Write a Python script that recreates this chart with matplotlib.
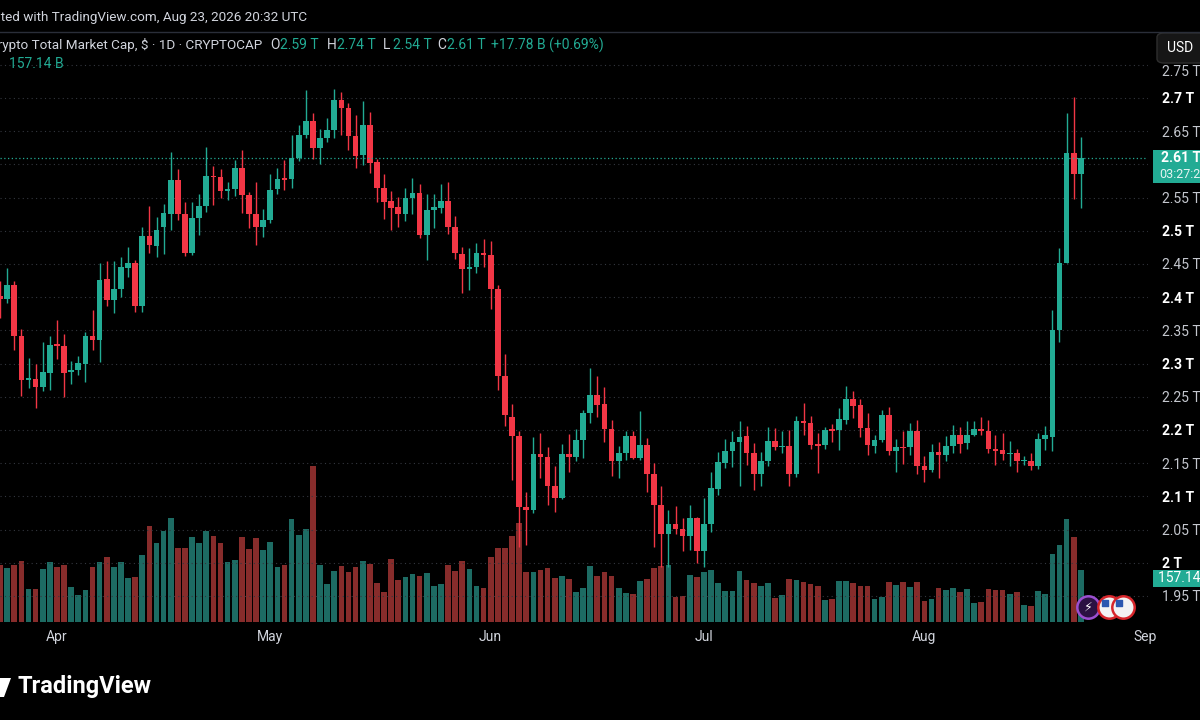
import numpy as np
import pandas as pd
import matplotlib
matplotlib.use("Agg")
import matplotlib.pyplot as plt
import matplotlib.dates as mdates
import matplotlib.transforms as mtransforms
from matplotlib.patches import Rectangle, FancyBboxPatch, Polygon
from matplotlib.lines import Line2D

plt.rcParams['font.family'] = ['Roboto', 'DejaVu Sans']

# daily candles, TOTAL crypto market cap in trillions USD
start_date = '2026-03-24'
opens = [2.402, 2.397, 2.418, 2.341, 2.276, 2.277, 2.265, 2.286, 2.330, 2.327,
         2.287, 2.291, 2.300, 2.341, 2.335, 2.428, 2.396, 2.413, 2.444, 2.451,
         2.386, 2.492, 2.477, 2.506, 2.525, 2.577, 2.525, 2.466, 2.520, 2.537,
         2.583, 2.581, 2.560, 2.563, 2.595, 2.554, 2.525, 2.505, 2.516, 2.563,
         2.579, 2.578, 2.609, 2.645, 2.665, 2.624, 2.639, 2.652, 2.697, 2.685,
         2.643, 2.614, 2.660, 2.603, 2.565, 2.545, 2.536, 2.525, 2.549, 2.557,
         2.494, 2.532, 2.534, 2.545, 2.506, 2.465, 2.443, 2.445, 2.466, 2.464,
         2.412, 2.281, 2.220, 2.191, 2.084, 2.080, 2.164, 2.159, 2.115, 2.097,
         2.164, 2.159, 2.185, 2.226, 2.252, 2.239, 2.202, 2.154, 2.166, 2.191,
         2.158, 2.178, 2.134, 2.087, 2.044, 2.058, 2.051, 2.041, 2.067, 2.017,
         2.058, 2.111, 2.151, 2.169, 2.182, 2.191, 2.166, 2.134, 2.154, 2.184,
         2.174, 2.176, 2.134, 2.214, 2.211, 2.179, 2.177, 2.201, 2.200, 2.215,
         2.246, 2.238, 2.203, 2.176, 2.185, 2.223, 2.168, 2.175, 2.174, 2.198,
         2.146, 2.140, 2.167, 2.162, 2.176, 2.192, 2.180, 2.193, 2.201, 2.199,
         2.171, 2.170, 2.164, 2.166, 2.153, 2.154, 2.146, 2.187, 2.190, 2.350,
         2.452, 2.617, 2.585]
highs = [2.424, 2.444, 2.424, 2.352, 2.308, 2.299, 2.332, 2.341, 2.366, 2.344,
         2.304, 2.311, 2.348, 2.381, 2.451, 2.454, 2.454, 2.461, 2.476, 2.456,
         2.506, 2.538, 2.521, 2.541, 2.618, 2.593, 2.543, 2.544, 2.555, 2.626,
         2.598, 2.593, 2.574, 2.607, 2.622, 2.558, 2.573, 2.533, 2.585, 2.594,
         2.606, 2.644, 2.660, 2.712, 2.677, 2.653, 2.670, 2.713, 2.709, 2.692,
         2.675, 2.695, 2.679, 2.608, 2.586, 2.560, 2.551, 2.565, 2.579, 2.571,
         2.555, 2.555, 2.570, 2.573, 2.522, 2.475, 2.474, 2.482, 2.488, 2.484,
         2.418, 2.315, 2.239, 2.198, 2.107, 2.190, 2.196, 2.175, 2.146, 2.179,
         2.194, 2.201, 2.230, 2.293, 2.281, 2.264, 2.215, 2.176, 2.198, 2.199,
         2.229, 2.188, 2.151, 2.115, 2.080, 2.086, 2.068, 2.087, 2.069, 2.097,
         2.137, 2.167, 2.187, 2.198, 2.214, 2.206, 2.181, 2.167, 2.204, 2.203,
         2.198, 2.200, 2.221, 2.240, 2.221, 2.195, 2.205, 2.209, 2.233, 2.266,
         2.258, 2.246, 2.225, 2.193, 2.230, 2.235, 2.186, 2.198, 2.211, 2.215,
         2.161, 2.179, 2.182, 2.191, 2.208, 2.205, 2.213, 2.213, 2.220, 2.215,
         2.193, 2.196, 2.183, 2.172, 2.161, 2.165, 2.196, 2.206, 2.381, 2.474,
         2.677, 2.701, 2.642]
lows = [2.368, 2.391, 2.321, 2.251, 2.263, 2.233, 2.258, 2.260, 2.307, 2.250,
        2.270, 2.283, 2.273, 2.320, 2.302, 2.386, 2.376, 2.400, 2.430, 2.377,
        2.378, 2.466, 2.460, 2.465, 2.501, 2.516, 2.462, 2.464, 2.493, 2.529,
        2.539, 2.550, 2.547, 2.553, 2.527, 2.504, 2.479, 2.490, 2.512, 2.556,
        2.561, 2.565, 2.605, 2.639, 2.608, 2.600, 2.633, 2.639, 2.645, 2.622,
        2.594, 2.599, 2.587, 2.544, 2.518, 2.501, 2.506, 2.514, 2.526, 2.489,
        2.456, 2.504, 2.527, 2.495, 2.457, 2.406, 2.411, 2.436, 2.446, 2.382,
        2.260, 2.206, 2.124, 2.024, 2.027, 2.075, 2.127, 2.087, 2.076, 2.096,
        2.136, 2.153, 2.158, 2.210, 2.219, 2.182, 2.130, 2.128, 2.155, 2.156,
        2.155, 2.107, 2.024, 1.994, 1.994, 2.044, 2.018, 2.019, 2.000, 1.994,
        2.046, 2.102, 2.142, 2.144, 2.115, 2.147, 2.110, 2.115, 2.145, 2.170,
        2.165, 2.116, 2.129, 2.193, 2.172, 2.135, 2.171, 2.182, 2.170, 2.209,
        2.218, 2.190, 2.162, 2.165, 2.182, 2.162, 2.137, 2.149, 2.162, 2.134,
        2.122, 2.137, 2.127, 2.154, 2.166, 2.166, 2.172, 2.191, 2.192, 2.166,
        2.147, 2.155, 2.145, 2.136, 2.147, 2.140, 2.141, 2.170, 2.168, 2.332,
        2.451, 2.548, 2.535]
closes = [2.398, 2.418, 2.341, 2.275, 2.278, 2.265, 2.287, 2.328, 2.327, 2.286,
          2.291, 2.301, 2.341, 2.335, 2.426, 2.396, 2.413, 2.445, 2.451, 2.386,
          2.492, 2.478, 2.501, 2.527, 2.577, 2.525, 2.466, 2.520, 2.537, 2.583,
          2.581, 2.560, 2.563, 2.595, 2.554, 2.525, 2.505, 2.517, 2.562, 2.578,
          2.577, 2.609, 2.645, 2.665, 2.624, 2.639, 2.652, 2.697, 2.685, 2.643,
          2.613, 2.660, 2.602, 2.564, 2.544, 2.535, 2.525, 2.550, 2.557, 2.494,
          2.531, 2.536, 2.545, 2.506, 2.466, 2.443, 2.446, 2.466, 2.464, 2.412,
          2.281, 2.222, 2.191, 2.084, 2.080, 2.164, 2.159, 2.115, 2.097, 2.164,
          2.159, 2.185, 2.226, 2.253, 2.238, 2.202, 2.154, 2.166, 2.191, 2.158,
          2.178, 2.134, 2.087, 2.044, 2.058, 2.051, 2.041, 2.067, 2.017, 2.058,
          2.112, 2.152, 2.169, 2.182, 2.190, 2.166, 2.134, 2.154, 2.184, 2.174,
          2.176, 2.134, 2.214, 2.210, 2.177, 2.176, 2.200, 2.198, 2.216, 2.246,
          2.236, 2.203, 2.177, 2.185, 2.223, 2.168, 2.175, 2.173, 2.198, 2.146,
          2.140, 2.167, 2.162, 2.176, 2.192, 2.179, 2.193, 2.201, 2.198, 2.171,
          2.168, 2.164, 2.166, 2.153, 2.155, 2.146, 2.187, 2.192, 2.350, 2.452,
          2.617, 2.585, 2.610]
# volume, billions USD
volumes = [172, 162, 170, 183, 100, 98, 160, 179, 165, 172,
           106, 80, 96, 166, 180, 194, 164, 180, 131, 135,
           201, 287, 237, 272, 313, 221, 221, 256, 238, 273,
           259, 237, 180, 186, 256, 220, 253, 217, 239, 165,
           170, 310, 262, 279, 468, 172, 115, 152, 169, 151,
           165, 182, 173, 118, 90, 190, 125, 135, 143, 138,
           148, 107, 115, 170, 154, 184, 159, 109, 103, 196,
           221, 221, 258, 296, 151, 150, 155, 162, 132, 139,
           130, 89, 102, 167, 138, 149, 138, 102, 88, 84,
           124, 128, 161, 168, 172, 75, 79, 140, 134, 149,
           157, 117, 94, 94, 153, 125, 117, 107, 117, 73,
           81, 130, 127, 119, 113, 109, 65, 70, 124, 122,
           116, 109, 109, 69, 75, 121, 112, 120, 104, 121,
           62, 70, 101, 97, 102, 89, 100, 57, 61, 100,
           95, 96, 85, 89, 52, 49, 92, 84, 205, 232,
           309, 256, 157.14]

price_ticks = [1.95, 2.0, 2.05, 2.1, 2.15, 2.2, 2.25, 2.3, 2.35, 2.4,
               2.45, 2.5, 2.55, 2.6, 2.65, 2.7, 2.75]
event_dates = ['2026-08-24', '2026-08-27', '2026-08-29']
event_kinds = ['flash', 'us', 'us']

header = 'Created with TradingView.com, Aug 23, 2026 20:32 UTC'
title = 'Crypto Total Market Cap, $ · 1D · CRYPTOCAP'
ohlc_text = [('O', '2.59 T'), ('H', '2.74 T'), ('L', '2.54 T'), ('C', '2.61 T')]
change_text = '+17.78 B (+0.69%)'
countdown = '03:27:28'

W, H = 1200, 720
UP = '#22ab94'
DOWN = '#f23645'
VOL_UP = '#1d6b63'
VOL_DOWN = '#872c2b'
GRID = '#34373f'
TXT = '#d1d4dc'
FS = 10


def fxy(px, py):
    return px / W, 1 - py / H


o = np.array(opens)
h = np.array(highs)
l = np.array(lows)
c = np.array(closes)
v = np.array(volumes)
dates = pd.date_range(start_date, periods=len(c), freq='D')
x = mdates.date2num(dates.to_pydatetime())
up = c >= o

fig = plt.figure(figsize=(W / 100, H / 100), dpi=100, facecolor='black')
ax_vol = fig.add_axes([0, 1 - 622 / H, 1148 / W, 591 / H])
ax = ax_vol.twinx()
for a in (ax_vol, ax):
    a.set_facecolor('none')
    for s in a.spines.values():
        s.set_visible(False)
ax_vol.set_facecolor('black')

# volume
ax_vol.bar(x, v, width=0.8, color=np.where(up, VOL_UP, VOL_DOWN), zorder=2)
ax_vol.set_ylim(0, 1773)
ax_vol.set_yticks([])

# candles
ax.vlines(x, l, h, colors=np.where(up, UP, DOWN), lw=1.0, zorder=3)
body = np.maximum(np.abs(c - o), 0.0016)
ax.bar(x, body, bottom=np.minimum(o, c), width=0.8,
       color=np.where(up, UP, DOWN), zorder=4)
ax.axhline(c[-1], color=UP, lw=0.9, ls=(0, (1, 2)), zorder=5)

ax.set_ylim(1.9108, 2.8009)
ax.set_xlim(x[0] - 0.014, x[0] + 161.45)

ax.set_yticks(price_ticks)
ax.set_yticklabels(['' if p == 2.75 else f'{p:g} T' for p in price_ticks])
ax.tick_params(axis='y', length=0, pad=10, labelsize=FS)
for p, lab in zip(price_ticks, ax.get_yticklabels()):
    major = abs(p * 10 - round(p * 10)) < 1e-6
    lab.set_fontweight('bold' if major else 'normal')
    lab.set_color('white' if major else '#c4c7ce')
ax.annotate('2.75 T', xy=(1, 2.75), xycoords=('axes fraction', 'data'),
            xytext=(10, -5), textcoords='offset points', ha='left',
            va='center', fontsize=FS, color='#c4c7ce', annotation_clip=False)

ax_vol.xaxis.set_major_locator(mdates.MonthLocator())
ax_vol.xaxis.set_major_formatter(mdates.DateFormatter('%b'))
ax_vol.tick_params(axis='x', length=0, pad=6, labelsize=FS, labelcolor=TXT)
ax.grid(True, color=GRID, lw=0.8, ls=(0, (1, 3)), zorder=0)

# event markers at the bottom of the pane
ev_x = mdates.date2num(pd.to_datetime(event_dates).to_pydatetime())
trans = mtransforms.blended_transform_factory(ax.transData, ax.transAxes)
for ex, kind in zip(ev_x, event_kinds):
    if kind == 'flash':
        ax.scatter([ex], [0.026], s=260, transform=trans, fc='#2b1142',
                   ec='#9b4fd0', lw=1.8, zorder=8, clip_on=False)
        ax.text(ex, 0.026, '⚡', transform=trans, ha='center', va='center',
                fontsize=9, color='white', zorder=9)
    else:
        ax.scatter([ex], [0.026], s=260, transform=trans, fc='#f3f3f3',
                   ec='#d7262b', lw=1.8, zorder=8, clip_on=False)
        off = trans + mtransforms.ScaledTranslation(-3 / 72, 2.5 / 72,
                                                    fig.dpi_scale_trans)
        ax.scatter([ex], [0.026], s=16, marker='s', transform=off,
                   color='#2c58b0', zorder=9, clip_on=False)

# header and legend
sep = 1 - 32 / H
fig.add_artist(Line2D([0, 1], [sep, sep], transform=fig.transFigure,
                      color='#2a2e39', lw=1))
fig.text(*fxy(307, 18), header, ha='right', va='center', fontsize=9.7, color=TXT)
fig.text(*fxy(262, 45), title, ha='right', va='center', fontsize=9.7, color=TXT)
xs = [270, 327, 383, 437]
for (k, val), px in zip(ohlc_text, xs):
    fig.text(*fxy(px, 45), k, ha='left', va='center', fontsize=FS, color=TXT)
    fig.text(*fxy(px + 10, 45), val, ha='left', va='center', fontsize=FS, color=UP)
fig.text(*fxy(491, 45), change_text, ha='left', va='center', fontsize=FS, color=UP)
fig.text(*fxy(9, 64), f'{v[-1]:.2f} B', ha='left', va='center', fontsize=FS, color=UP)

# USD box
fig.add_artist(FancyBboxPatch(fxy(1157, 63), 60 / W, 30 / H,
                              boxstyle='round,pad=0,rounding_size=0.006',
                              transform=fig.transFigure, fc='#161616',
                              ec='#2e2e2e', lw=1))
fig.text(*fxy(1167, 48), 'USD', ha='left', va='center', fontsize=FS, color='white')

# last price box
yp = H - ax.transData.transform((x[0], c[-1]))[1]
fig.add_artist(Rectangle(fxy(1153, yp + 25), 60 / W, 33 / H,
                         transform=fig.transFigure, fc=UP, ec='none'))
fig.text(*fxy(1161, yp + 0.5), f'{c[-1]:.2f} T', ha='left', va='center',
         fontsize=FS, weight='bold', color='white')
fig.text(*fxy(1159, yp + 17), countdown, ha='left', va='center',
         fontsize=9, color='#e6f4f2')

# last volume box
yv = H - ax_vol.transData.transform((x[0], v[-1]))[1]
fig.add_artist(Rectangle(fxy(1153, yv + 17), 60 / W, 17 / H,
                         transform=fig.transFigure, fc=UP, ec='none'))
fig.text(*fxy(1158, yv + 8.5), f'{v[-1]:.2f} B', ha='left', va='center',
         fontsize=FS, color='white')

# footer logo
fig.add_artist(Polygon([fxy(0, 678), fxy(11, 678), fxy(4, 697), fxy(0, 697)],
                       closed=True, transform=fig.transFigure, fc='white', ec='none'))
fig.text(*fxy(18, 687), 'TradingView', ha='left', va='center', fontsize=17,
         weight='bold', color='white')

fig.savefig('out.png', dpi=100, facecolor='black')
